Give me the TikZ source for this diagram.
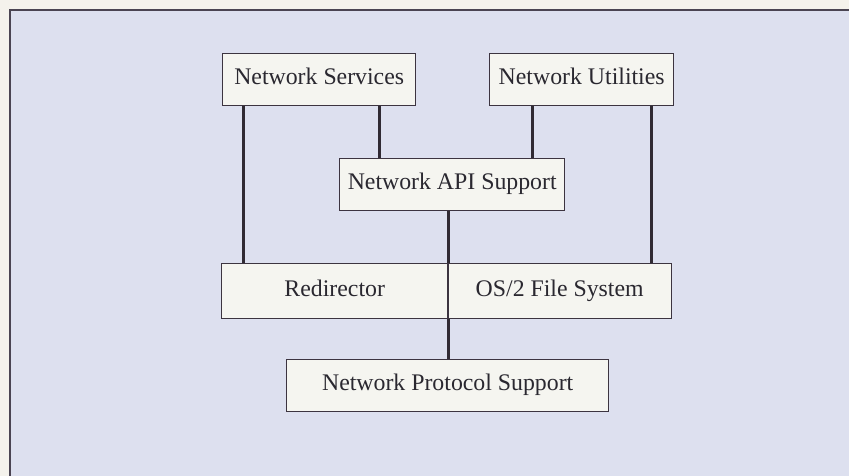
\documentclass[tikz,border=0pt]{standalone}
\usepackage{fontspec}
\setmainfont{Liberation Serif}
\usepackage{xcolor}
\definecolor{paper}{HTML}{F4F2EC}
\definecolor{panel}{HTML}{DDE0EF}
\definecolor{frameline}{HTML}{4A4452}
\definecolor{boxfill}{HTML}{F5F5F0}
\definecolor{boxline}{HTML}{3C3440}
\definecolor{inktext}{HTML}{2A2830}

\begin{document}
\begin{tikzpicture}[x=1pt,y=-1pt,
		layer/.style={draw=boxline,line width=1.4pt,fill=boxfill,text=inktext,
			font=\fontsize{23.8}{28}\selectfont,inner sep=0pt,
			text height=16pt,text depth=6pt,
			minimum height=52pt,anchor=north west},
		link/.style={draw=boxline!80!black,line width=3pt}]
		\useasboundingbox (0,0) rectangle (849,476);
		\fill[paper] (0,0) rectangle (849,476);
		\filldraw[fill=panel,draw=frameline,line width=1.6pt] (10,10) rectangle (870,500);
		
		\node[layer,minimum width=193pt] (svc) at (222,53) {Network Services};
		\node[layer,minimum width=184pt] (util) at (489,53) {Network Utilities};
		\node[layer,minimum width=225pt] (api) at (339,158) {Network API Support};
		\node[layer,minimum width=226pt,minimum height=55pt] (redir) at (221,263) {Redirector};
		\node[layer,minimum width=224pt,minimum height=55pt] (osfs) at (447,263) {OS/2 File System};
		\node[layer,minimum width=322pt] (proto) at (286,359) {Network Protocol Support};
		
		\draw[link] ([xshift=21pt]svc.south west) -- ([xshift=21pt]svc.south west |- redir.north);
		\draw[link] ([xshift=-37pt]svc.south east) -- ([xshift=-37pt]svc.south east |- api.north);
		\draw[link] ([xshift=43pt]util.south west) -- ([xshift=43pt]util.south west |- api.north);
		\draw[link] ([xshift=-23pt]util.south east) -- ([xshift=-23pt]util.south east |- osfs.north);
		\draw[link] (api.south -| redir.east) -- (redir.north east);
		\draw[link] (redir.south east) -- (redir.south east |- proto.north);
		\draw[boxline,line width=1.4pt] (redir.north east) -- (redir.south east);
	\end{tikzpicture}
\end{document}
